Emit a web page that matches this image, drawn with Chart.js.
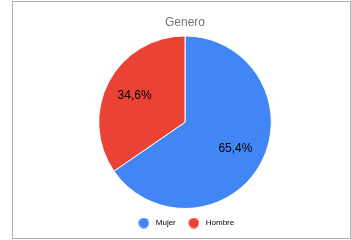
<!DOCTYPE html>
<html>
<head>
<meta charset="utf-8">
<script src="https://cdn.jsdelivr.net/npm/chart.js@4"></script>
<style>
html,body{margin:0;padding:0;background:#fff;}
#wrap{position:absolute;left:0;top:0;width:351px;height:240px;}
#frame{position:absolute;left:12px;top:1px;width:337px;height:236px;border:1px solid #b4b4b4;pointer-events:none;}
</style>
</head>
<body>
<div id="wrap"><canvas id="c" width="351" height="240"></canvas></div>
<div id="frame"></div>
<script>
const categories = ["Mujer", "Hombre"];
const values = [65.4, 34.6];
const valueLabels = ["65,4%", "34,6%"];
const colors = ["#4285F4", "#EA4335"];
const titleText = "Genero";

function dot(color) {
  const c = document.createElement('canvas');
  c.width = 11; c.height = 11;
  const g = c.getContext('2d');
  g.fillStyle = color;
  g.beginPath();
  g.arc(5.5, 5.5, 5.2, 0, Math.PI * 2);
  g.fill();
  return c;
}

const sliceLabels = {
  id: 'sliceLabels',
  afterDatasetsDraw(chart) {
    const ctx = chart.ctx;
    const meta = chart.getDatasetMeta(0);
    ctx.save();
    ctx.font = '12px "Liberation Sans", Arial, sans-serif';
    ctx.fillStyle = '#000';
    ctx.textAlign = 'center';
    ctx.textBaseline = 'middle';
    meta.data.forEach((arc, i) => {
      const p = arc.getProps(['x','y','startAngle','endAngle','outerRadius'], true);
      const mid = (p.startAngle + p.endAngle) / 2;
      const r = p.outerRadius * 0.66;
      ctx.fillText(valueLabels[i], p.x + Math.cos(mid) * r, p.y + Math.sin(mid) * r);
    });
    ctx.restore();
  }
};

new Chart(document.getElementById('c'), {
  type: 'pie',
  data: {
    labels: categories,
    datasets: [{
      data: values,
      backgroundColor: colors,
      borderColor: '#ffffff',
      borderWidth: 1
    }]
  },
  options: {
    responsive: false,
    animation: false,
    layout: { padding: { left: 19, right: 0, top: 0, bottom: 3 } },
    plugins: {
      title: {
        display: true,
        text: titleText,
        color: '#757575',
        font: { family: '"Liberation Sans", Arial, sans-serif', size: 12, weight: 'normal' },
        padding: { top: 15, bottom: 6 }
      },
      legend: {
        position: 'bottom',
        labels: {
          usePointStyle: true,
          pointStyleWidth: 16,
          boxHeight: 10,
          color: '#222',
          padding: 10,
          font: { family: '"Liberation Sans", Arial, sans-serif', size: 8 },
          generateLabels(chart) {
            return categories.map((name, i) => ({
              text: name,
              fillStyle: colors[i],
              strokeStyle: colors[i],
              lineWidth: 0,
              pointStyle: dot(colors[i]),
              hidden: false,
              index: i,
              datasetIndex: 0
            }));
          }
        }
      },
      tooltip: { enabled: false }
    }
  },
  plugins: [sliceLabels]
});
</script>
</body>
</html>
